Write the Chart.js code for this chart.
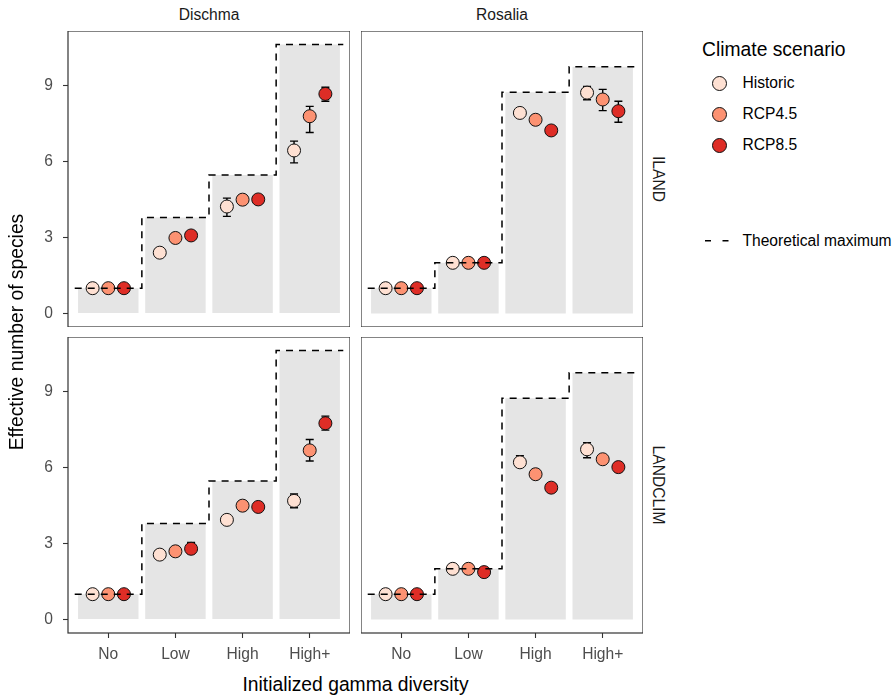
<!DOCTYPE html>
<html><head><meta charset="utf-8">
<script src="https://cdn.jsdelivr.net/npm/chart.js@4.4.1/dist/chart.umd.min.js"></script>
<style>
body{margin:0;background:#fff;width:894px;height:698px;position:relative;overflow:hidden;font-family:"Liberation Sans",Arial,Helvetica,sans-serif;}
canvas{position:absolute;}
.lbl{position:absolute;white-space:nowrap;}
</style></head><body>
<script>
// ---------------- DATA ----------------
const categories = ['No', 'Low', 'High', 'High+'];
const scenarios = ['Historic', 'RCP4.5', 'RCP8.5'];
const scenarioColors = ['#fee0d2', '#fc9272', '#de2d26'];
const yTickValues = [0, 3, 6, 9];
const siteNames = ['Dischma', 'Rosalia'];
const modelNames = ['ILAND', 'LANDCLIM'];

// theoretical maximum (gray bars + dashed step)
const maxDischma = [1.0, 3.79, 5.46, 10.61];
const maxRosalia = [1.0, 2.0, 8.73, 9.73];

// Dischma – ILAND
const dischmaIlandHistoric = [1.0, 2.40, 4.22, 6.43];
const dischmaIlandHistoricLo = [null, null, 3.83, 5.94];
const dischmaIlandHistoricHi = [null, null, 4.55, 6.80];
const dischmaIlandRcp45 = [1.0, 2.98, 4.49, 7.78];
const dischmaIlandRcp45Lo = [null, null, null, 7.14];
const dischmaIlandRcp45Hi = [null, null, null, 8.17];
const dischmaIlandRcp85 = [1.0, 3.08, 4.50, 8.66];
const dischmaIlandRcp85Lo = [null, null, null, 8.37];
const dischmaIlandRcp85Hi = [null, null, null, 8.92];

// Rosalia – ILAND
const rosaliaIlandHistoric = [1.0, 2.0, 7.91, 8.71];
const rosaliaIlandHistoricLo = [null, null, null, 8.43];
const rosaliaIlandHistoricHi = [null, null, null, 8.95];
const rosaliaIlandRcp45 = [1.0, 2.0, 7.64, 8.44];
const rosaliaIlandRcp45Lo = [null, null, null, 8.00];
const rosaliaIlandRcp45Hi = [null, null, null, 8.84];
const rosaliaIlandRcp85 = [1.0, 2.0, 7.22, 7.98];
const rosaliaIlandRcp85Lo = [null, null, null, 7.54];
const rosaliaIlandRcp85Hi = [null, null, null, 8.37];

// Dischma – LANDCLIM
const dischmaLandclimHistoric = [1.0, 2.56, 3.93, 4.68];
const dischmaLandclimHistoricLo = [null, null, null, 4.41];
const dischmaLandclimHistoricHi = [null, null, null, 4.95];
const dischmaLandclimRcp45 = [1.0, 2.69, 4.49, 6.67];
const dischmaLandclimRcp45Lo = [null, null, null, 6.25];
const dischmaLandclimRcp45Hi = [null, null, null, 7.10];
const dischmaLandclimRcp85 = [1.0, 2.79, 4.44, 7.74];
const dischmaLandclimRcp85Lo = [null, 2.60, null, 7.47];
const dischmaLandclimRcp85Hi = [null, 3.04, null, 8.02];

// Rosalia – LANDCLIM
const rosaliaLandclimHistoric = [1.0, 2.0, 6.20, 6.71];
const rosaliaLandclimHistoricLo = [null, null, 6.00, 6.38];
const rosaliaLandclimHistoricHi = [null, null, 6.46, 6.97];
const rosaliaLandclimRcp45 = [1.0, 2.0, 5.73, 6.32];
const rosaliaLandclimRcp45Lo = [null, null, null, null];
const rosaliaLandclimRcp45Hi = [null, null, null, null];
const rosaliaLandclimRcp85 = [1.0, 1.87, 5.20, 6.01];
const rosaliaLandclimRcp85Lo = [null, null, null, null];
const rosaliaLandclimRcp85Hi = [null, null, null, null];

// ---------------- LAYOUT ----------------
const PANEL_W = 282, PANEL_H = 296;
const Y_AXIS_W = 60, X_AXIS_H = 34;
const COL_LEFT = [68, 361], ROW_TOP = [31, 337];
const DODGE = 0.7;
const FONT = '"Liberation Sans", Arial, Helvetica, sans-serif';
const SMALL = 15.6, TITLE = 19.3;

const allMax = Math.max(...maxDischma, ...maxRosalia);
const yMin = -0.05 * allMax, yMax = allMax * 1.05;
const xMin = -0.6, xMax = categories.length - 1 + 0.6;

const panels = [
  {col:0,row:0,max:maxDischma,
   means:[dischmaIlandHistoric,dischmaIlandRcp45,dischmaIlandRcp85],
   lo:[dischmaIlandHistoricLo,dischmaIlandRcp45Lo,dischmaIlandRcp85Lo],
   hi:[dischmaIlandHistoricHi,dischmaIlandRcp45Hi,dischmaIlandRcp85Hi]},
  {col:1,row:0,max:maxRosalia,
   means:[rosaliaIlandHistoric,rosaliaIlandRcp45,rosaliaIlandRcp85],
   lo:[rosaliaIlandHistoricLo,rosaliaIlandRcp45Lo,rosaliaIlandRcp85Lo],
   hi:[rosaliaIlandHistoricHi,rosaliaIlandRcp45Hi,rosaliaIlandRcp85Hi]},
  {col:0,row:1,max:maxDischma,
   means:[dischmaLandclimHistoric,dischmaLandclimRcp45,dischmaLandclimRcp85],
   lo:[dischmaLandclimHistoricLo,dischmaLandclimRcp45Lo,dischmaLandclimRcp85Lo],
   hi:[dischmaLandclimHistoricHi,dischmaLandclimRcp45Hi,dischmaLandclimRcp85Hi]},
  {col:1,row:1,max:maxRosalia,
   means:[rosaliaLandclimHistoric,rosaliaLandclimRcp45,rosaliaLandclimRcp85],
   lo:[rosaliaLandclimHistoricLo,rosaliaLandclimRcp45Lo,rosaliaLandclimRcp85Lo],
   hi:[rosaliaLandclimHistoricHi,rosaliaLandclimRcp45Hi,rosaliaLandclimRcp85Hi]}
];

const dodgeOffset = k => (k - (scenarios.length - 1) / 2) * DODGE / scenarios.length;

// error bars drawn right after the gray bars (below points)
const errorBarPlugin = {
  id: 'errbars',
  afterDatasetDraw(chart, args, opts) {
    if (args.meta.type !== 'bar') return;
    const {ctx, scales:{x, y}} = chart;
    ctx.save();
    ctx.strokeStyle = '#000';
    ctx.lineWidth = 1.4;
    opts.lo.forEach((loArr, k) => {
      loArr.forEach((lo, i) => {
        const hi = opts.hi[k][i];
        if (lo == null || hi == null) return;
        const px = x.getPixelForValue(i + dodgeOffset(k));
        const p1 = y.getPixelForValue(lo), p2 = y.getPixelForValue(hi);
        ctx.beginPath();
        ctx.moveTo(px, p1); ctx.lineTo(px, p2);
        ctx.moveTo(px - 4, p1); ctx.lineTo(px + 4, p1);
        ctx.moveTo(px - 4, p2); ctx.lineTo(px + 4, p2);
        ctx.stroke();
      });
    });
    ctx.restore();
  }
};
const borderPlugin = {
  id: 'panelBorder',
  afterDraw(chart) {
    const {ctx, chartArea:a} = chart;
    ctx.save();
    ctx.strokeStyle = '#333333';
    ctx.lineWidth = 1.2;
    ctx.strokeRect(a.left, a.top, a.right - a.left, a.bottom - a.top);
    ctx.restore();
  }
};

panels.forEach(p => {
  const showY = p.col === 0, showX = p.row === 1;
  const cv = document.createElement('canvas');
  const w = PANEL_W + (showY ? Y_AXIS_W : 0);
  const h = PANEL_H + (showX ? X_AXIS_H : 0);
  cv.width = w; cv.height = h;
  cv.style.left = (COL_LEFT[p.col] - (showY ? Y_AXIS_W : 0)) + 'px';
  cv.style.top = ROW_TOP[p.row] + 'px';
  cv.style.width = w + 'px'; cv.style.height = h + 'px';
  document.body.appendChild(cv);

  const datasets = [];
  datasets.push({
    type: 'bar', order: 10,
    data: categories.map((c, i) => ({x: i, y: p.max[i]})),
    backgroundColor: '#e5e5e5', borderWidth: 0,
    barPercentage: 0.9, categoryPercentage: 1.0
  });
  scenarios.forEach((s, k) => {
    datasets.push({
      type: 'scatter', order: 5 - k, label: s,
      data: p.means[k].map((v, i) => ({x: i + dodgeOffset(k), y: v})),
      pointRadius: 6.5, pointBorderWidth: 1, pointBorderColor: '#111',
      pointBackgroundColor: scenarioColors[k], showLine: false
    });
  });
  const stepData = [];
  categories.forEach((c, i) => { stepData.push({x: i - 0.5, y: p.max[i]}); stepData.push({x: i + 0.5, y: p.max[i]}); });
  datasets.push({
    type: 'line', order: 0, data: stepData,
    borderColor: '#000', borderWidth: 1.5, borderDash: [7, 6],
    pointRadius: 0, fill: false, tension: 0
  });

  new Chart(cv, {
    type: 'scatter',
    data: {datasets},
    options: {
      responsive: false, animation: false, events: [],
      devicePixelRatio: 1,
      layout: {padding: 0, autoPadding: false},
      plugins: {legend: {display: false}, tooltip: {enabled: false},
        errbars: {lo: p.lo, hi: p.hi}},
      scales: {
        x: {
          type: 'linear', min: xMin, max: xMax, display: showX, offset: false,
          grid: {display: true, offset: false, drawOnChartArea: false, tickLength: 5, tickColor: '#333333', tickWidth: 1.1},
          border: {display: false},
          afterBuildTicks: s => { s.ticks = categories.map((c, i) => ({value: i})); },
          afterFit: s => { if (showX) { s.height = X_AXIS_H; } s.paddingLeft = 0; s.paddingRight = 0; },
          ticks: {callback: v => categories[v], color: '#4d4d4d', padding: 7,
                  font: {family: FONT, size: SMALL}, maxRotation: 0, autoSkip: false}
        },
        y: {
          type: 'linear', min: yMin, max: yMax, display: showY, offset: false, beginAtZero: false,
          grid: {display: true, offset: false, drawOnChartArea: false, tickLength: 5, tickColor: '#333333', tickWidth: 1.1},
          border: {display: false},
          afterBuildTicks: s => { s.ticks = yTickValues.map(v => ({value: v})); },
          afterFit: s => { if (showY) { s.width = Y_AXIS_W; } s.paddingTop = 0; s.paddingBottom = 0; },
          ticks: {color: '#4d4d4d', padding: 10, font: {family: FONT, size: SMALL}}
        }
      }
    },
    plugins: [errorBarPlugin, borderPlugin]
  });
});

// ---------------- TEXT LABELS ----------------
function label(text, css) {
  const d = document.createElement('div');
  d.className = 'lbl';
  d.textContent = text;
  Object.assign(d.style, css);
  document.body.appendChild(d);
  return d;
}
siteNames.forEach((s, c) => label(s, {left: COL_LEFT[c] + 'px', width: PANEL_W + 'px', top: '5px', height: '20px',
  lineHeight: '20px', textAlign: 'center', fontSize: SMALL + 'px', color: '#1a1a1a'}));
modelNames.forEach((m, r) => label(m, {left: (657.5 - 100) + 'px', width: '200px', top: (ROW_TOP[r] + PANEL_H / 2 - 10) + 'px',
  height: '20px', lineHeight: '20px', textAlign: 'center', fontSize: SMALL + 'px', color: '#1a1a1a', transform: 'rotate(90deg)'}));
label('Effective number of species', {left: (17 - 150) + 'px', width: '300px', top: (332 - 12) + 'px', height: '24px',
  lineHeight: '24px', textAlign: 'center', fontSize: TITLE + 'px', color: '#000', transform: 'rotate(-90deg)'});
label('Initialized gamma diversity', {left: (355.5 - 200) + 'px', width: '400px', top: (684.5 - 12) + 'px', height: '24px',
  lineHeight: '24px', textAlign: 'center', fontSize: TITLE + 'px', color: '#000'});

// legend
label('Climate scenario', {left: '702px', top: (50 - 12) + 'px', lineHeight: '24px', fontSize: TITLE + 'px', color: '#000'});
scenarios.forEach((s, k) => {
  const cy = 83.3 + k * 30.9;
  const dot = document.createElement('div');
  Object.assign(dot.style, {position: 'absolute', left: (719.3 - 7.5) + 'px', top: (cy - 7.5) + 'px', width: '13px', height: '13px',
    borderRadius: '50%', border: '1px solid #111', background: scenarioColors[k]});
  document.body.appendChild(dot);
  label(s, {left: '742.5px', top: (cy - 10) + 'px', lineHeight: '20px', fontSize: SMALL + 'px', color: '#000'});
});
const svgNS = 'http://www.w3.org/2000/svg';
const svg = document.createElementNS(svgNS, 'svg');
svg.setAttribute('width', '30'); svg.setAttribute('height', '10');
Object.assign(svg.style, {position: 'absolute', left: '702px', top: '236px'});
const ln = document.createElementNS(svgNS, 'line');
ln.setAttribute('x1', '3'); ln.setAttribute('x2', '26.5'); ln.setAttribute('y1', '4.8'); ln.setAttribute('y2', '4.8');
ln.setAttribute('stroke', '#000'); ln.setAttribute('stroke-width', '1.5'); ln.setAttribute('stroke-dasharray', '6,11.5');
svg.appendChild(ln);
document.body.appendChild(svg);
label('Theoretical maximum', {left: '742.5px', top: (241 - 10) + 'px', lineHeight: '20px', fontSize: SMALL + 'px', color: '#000'});
</script>
</body></html>
